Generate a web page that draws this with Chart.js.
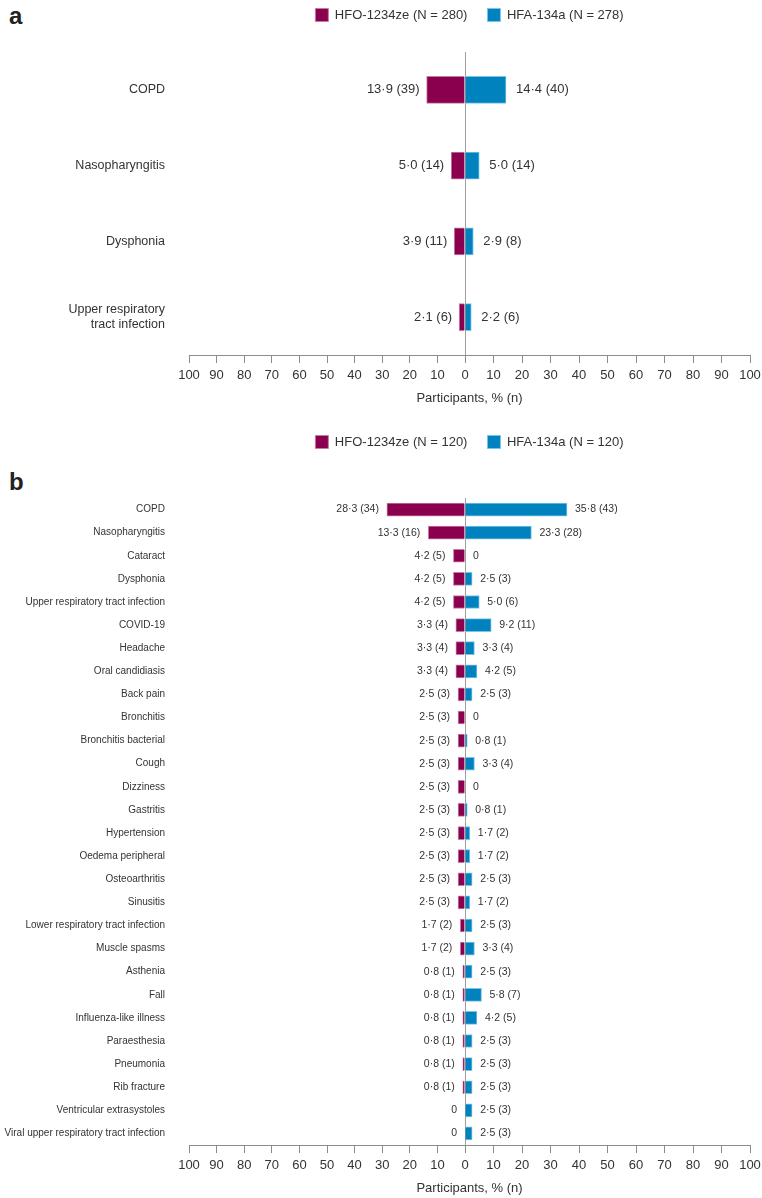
<!DOCTYPE html>
<html>
<head>
<meta charset="utf-8">
<script src="https://cdn.jsdelivr.net/npm/chart.js"></script>
<style>
  body { margin: 0; background: #fff; width: 762px; height: 1198px; overflow: hidden; position: relative; font-family: "Liberation Sans", Arial, sans-serif; }
  .panel { position: absolute; left: 0; width: 762px; }
  .letter { position: absolute; left: 9px; font-size: 24px; font-weight: bold; color: #222; line-height: 1; }
</style>
</head>
<body>
<div class="letter" style="top:4px;">a</div>
<div class="letter" style="top:470px;">b</div>
<div class="panel" style="top:0; height:410px;"><canvas id="chartA"></canvas></div>
<div class="panel" style="top:415px; height:785px;"><canvas id="chartB"></canvas></div>
<script>
// panel a
const catsA = ['COPD', 'Nasopharyngitis', 'Dysphonia', ['Upper respiratory', 'tract infection']];
const hfoPctA = [13.9, 5.0, 3.9, 2.1];
const hfoNA = [39, 14, 11, 6];
const hfaPctA = [14.4, 5.0, 2.9, 2.2];
const hfaNA = [40, 14, 8, 6];

// panel b
const catsB = ['COPD', 'Nasopharyngitis', 'Cataract', 'Dysphonia', 'Upper respiratory tract infection',
  'COVID-19', 'Headache', 'Oral candidiasis', 'Back pain', 'Bronchitis', 'Bronchitis bacterial', 'Cough',
  'Dizziness', 'Gastritis', 'Hypertension', 'Oedema peripheral', 'Osteoarthritis', 'Sinusitis',
  'Lower respiratory tract infection', 'Muscle spasms', 'Asthenia', 'Fall', 'Influenza-like illness',
  'Paraesthesia', 'Pneumonia', 'Rib fracture', 'Ventricular extrasystoles', 'Viral upper respiratory tract infection'];
const hfoPctB = [28.3, 13.3, 4.2, 4.2, 4.2, 3.3, 3.3, 3.3, 2.5, 2.5, 2.5, 2.5, 2.5, 2.5, 2.5, 2.5, 2.5, 2.5,
  1.7, 1.7, 0.8, 0.8, 0.8, 0.8, 0.8, 0.8, 0, 0];
const hfoNB = [34, 16, 5, 5, 5, 4, 4, 4, 3, 3, 3, 3, 3, 3, 3, 3, 3, 3, 2, 2, 1, 1, 1, 1, 1, 1, 0, 0];
const hfaPctB = [35.8, 23.3, 0, 2.5, 5.0, 9.2, 3.3, 4.2, 2.5, 0, 0.8, 3.3, 0, 0.8, 1.7, 1.7, 2.5, 1.7,
  2.5, 3.3, 2.5, 5.8, 4.2, 2.5, 2.5, 2.5, 2.5, 2.5];
const hfaNB = [43, 28, 0, 3, 6, 11, 4, 5, 3, 0, 1, 4, 0, 1, 2, 2, 3, 2, 3, 4, 3, 7, 5, 3, 3, 3, 3, 3];

const xTicks = [-100, -90, -80, -70, -60, -50, -40, -30, -20, -10, 0, 10, 20, 30, 40, 50, 60, 70, 80, 90, 100];

const MAROON = '#8a004f', MAROON_EDGE = '#c67ba3';
const BLUE = '#0082bf', BLUE_EDGE = '#7cc3ea';
const TEXT = '#333';
const FONT = '"Liberation Sans", Arial, sans-serif';

Chart.defaults.font.family = FONT;
Chart.defaults.color = TEXT;

// the original axis is a little wider on the right of zero than on the left
class SplitLinearScale extends Chart.LinearScale {
  getPixelForValue(value) {
    const mid = this.left + this.width * this.options.split;
    if (value >= 0) return mid + (this.right - mid) * value / this.max;
    return mid - (mid - this.left) * value / this.min;
  }
  getValueForPixel(pixel) {
    const mid = this.left + this.width * this.options.split;
    if (pixel >= mid) return (pixel - mid) / (this.right - mid) * this.max;
    return (mid - pixel) / (mid - this.left) * this.min;
  }
}
SplitLinearScale.id = 'splitLinear';
Chart.register(SplitLinearScale);

function fmt(p, n) {
  if (p === 0) return '0';
  return p.toFixed(1).replace('.', '\u00b7') + ' (' + n + ')';
}

const valueLabels = {
  id: 'valueLabels',
  afterDatasetsDraw(chart, args, opts) {
    const ctx = chart.ctx;
    ctx.save();
    ctx.font = opts.size + 'px ' + FONT;
    ctx.fillStyle = TEXT;
    ctx.textBaseline = 'middle';
    chart.data.datasets.forEach((ds, i) => {
      const meta = chart.getDatasetMeta(i);
      meta.data.forEach((bar, j) => {
        const txt = fmt(ds.pct[j], ds.n[j]);
        if (i === 0) {
          ctx.textAlign = 'right';
          ctx.fillText(txt, bar.x - opts.left, bar.y);
        } else {
          ctx.textAlign = 'left';
          ctx.fillText(txt, bar.x + opts.right, bar.y);
        }
      });
    });
    ctx.restore();
  }
};

function makeChart(id, cats, hfoPct, hfoN, hfaPct, hfaN, cfg) {
  return new Chart(document.getElementById(id), {
    type: 'bar',
    data: {
      labels: cats,
      datasets: [
        { label: cfg.hfoLabel, data: hfoPct.map(v => -v), pct: hfoPct, n: hfoN, grouped: false,
          backgroundColor: MAROON, borderColor: MAROON_EDGE, borderWidth: 1, barThickness: cfg.bar },
        { label: cfg.hfaLabel, data: hfaPct, pct: hfaPct, n: hfaN, grouped: false,
          backgroundColor: BLUE, borderColor: BLUE_EDGE, borderWidth: 1, barThickness: cfg.bar }
      ]
    },
    options: {
      indexAxis: 'y',
      responsive: true,
      maintainAspectRatio: false,
      animation: false,
      layout: { padding: { top: cfg.padTop, right: 12, left: 0, bottom: 0 } },
      plugins: {
        legend: {
          position: 'top',
          fullSize: false,
          labels: { boxWidth: 13, boxHeight: 13, padding: 20, font: { size: 13 }, color: TEXT }
        },
        tooltip: { enabled: false },
        valueLabels: { size: cfg.valSize, left: cfg.gapL, right: cfg.gapR }
      },
      scales: {
        x: {
          type: 'splitLinear',
          split: 276 / 561,
          min: -100,
          max: 100,
          z: 1,
          afterBuildTicks: s => { s.ticks = xTicks.map(v => ({ value: v })); },
          afterFit: s => { s.height = 55; s.paddingLeft = 0; s.paddingRight = 0; },
          ticks: { autoSkip: false, maxRotation: 0, padding: 5, font: { size: 13 }, color: TEXT,
            callback: v => Math.abs(v) },
          grid: {
            drawOnChartArea: true,
            color: c => (c.tick && c.tick.value === 0) ? '#9e9e9e' : 'rgba(0,0,0,0)',
            tickColor: '#8c8c8c',
            tickLength: 8,
            lineWidth: 1
          },
          border: { display: true, color: '#8c8c8c', width: 1 },
          title: { display: true, text: 'Participants, % (n)', font: { size: 13 }, color: TEXT, padding: { top: 4, bottom: 4 } }
        },
        spacer: {
          type: 'linear',
          position: 'top',
          display: true,
          afterFit: s => { s.height = cfg.spacer; },
          ticks: { display: false },
          grid: { display: false, drawTicks: false },
          border: { display: false }
        },
        y: {
          afterFit: s => { s.width = 189; },
          grid: { display: false, drawTicks: false },
          border: { display: false },
          ticks: { padding: 24, font: { size: cfg.catSize }, color: TEXT, autoSkip: false }
        }
      }
    },
    plugins: [valueLabels]
  });
}

makeChart('chartA', catsA, hfoPctA, hfoNA, hfaPctA, hfaNA, {
  hfoLabel: 'HFO-1234ze (N = 280)', hfaLabel: 'HFA-134a (N = 278)',
  bar: 27, padTop: -11.5, spacer: 20.5, valSize: 13, catSize: 12.5, gapL: 7, gapR: 10
});

makeChart('chartB', catsB, hfoPctB, hfoNB, hfaPctB, hfaNB, {
  hfoLabel: 'HFO-1234ze (N = 120)', hfaLabel: 'HFA-134a (N = 120)',
  bar: 13, padTop: 0.5, spacer: 39.5, valSize: 10.5, catSize: 10, gapL: 8, gapR: 8
});
</script>
</body>
</html>
